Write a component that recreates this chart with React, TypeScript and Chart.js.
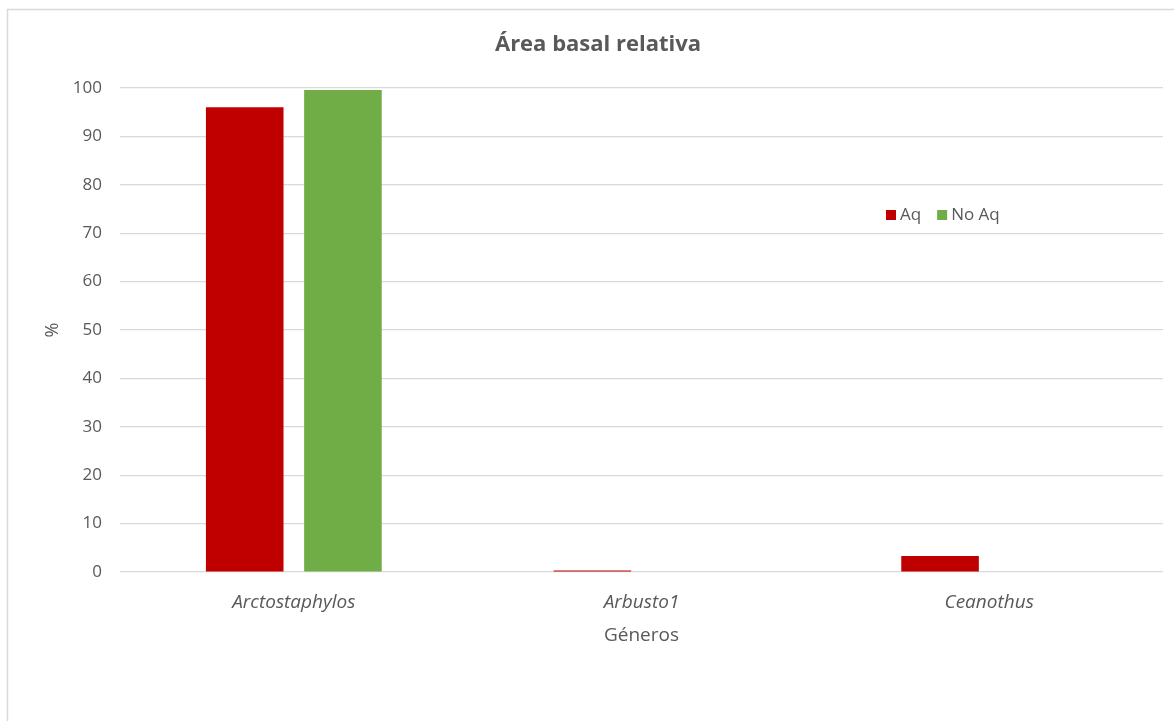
import React, { useEffect, useRef } from "react";
import { Chart, registerables } from "chart.js";

Chart.register(...registerables);

const TITLE = "Área basal relativa";
const CATEGORIES = ["Arctostaphylos", "Arbusto1", "Ceanothus"];
const SERIES_NAMES = ["Aq", "No Aq"];
const AQ_VALUES = [96.0, 0.3, 3.3];
const NO_AQ_VALUES = [99.6, 0, 0];
const SERIES_COLORS = ["#C00000", "#70AD47"];
const Y_MIN = 0;
const Y_MAX = 100;
const Y_STEP = 10;
const X_TITLE = "Géneros";
const Y_TITLE = "%";

const FONT = "'Open Sans', 'Noto Sans', sans-serif";
const TEXT = "#595959";
const GRID = "#d9d9d9";

const framePlugin = {
  id: "frameAndTitle",
  beforeDraw(chart: any) {
    const { ctx, width, height } = chart;
    ctx.save();
    ctx.fillStyle = "#ffffff";
    ctx.fillRect(0, 0, width, height);
    ctx.strokeStyle = GRID;
    ctx.lineWidth = 1.5;
    ctx.beginPath();
    ctx.moveTo(7.5, height);
    ctx.lineTo(7.5, 9.5);
    ctx.lineTo(width, 9.5);
    ctx.stroke();
    ctx.restore();
  },
  afterDraw(chart: any) {
    const { ctx } = chart;
    ctx.save();
    // title
    ctx.fillStyle = TEXT;
    ctx.font = `bold 22px ${FONT}`;
    ctx.textAlign = "center";
    ctx.textBaseline = "middle";
    ctx.fillText(TITLE, 598, 45);
    // legend
    ctx.font = `17px ${FONT}`;
    ctx.textAlign = "left";
    let x = 886;
    const y = 215;
    chart.data.datasets.forEach((ds: any) => {
      ctx.fillStyle = ds.backgroundColor;
      ctx.fillRect(x, y - 5, 10, 10);
      ctx.fillStyle = TEXT;
      ctx.fillText(ds.label, x + 14, y);
      const w = ctx.measureText(ds.label).width;
      x += 14 + w + 16;
    });
    ctx.restore();
  },
};

export default function App() {
  const ref = useRef<HTMLCanvasElement | null>(null);
  useEffect(() => {
    if (!ref.current) return;
    const chart = new Chart(ref.current, {
      type: "bar",
      data: {
        labels: CATEGORIES,
        datasets: [
          {
            label: SERIES_NAMES[0],
            data: AQ_VALUES,
            backgroundColor: SERIES_COLORS[0],
            categoryPercentage: 0.565,
            barPercentage: 0.79,
          },
          {
            label: SERIES_NAMES[1],
            data: NO_AQ_VALUES,
            backgroundColor: SERIES_COLORS[1],
            categoryPercentage: 0.565,
            barPercentage: 0.79,
          },
        ],
      },
      options: {
        responsive: false,
        animation: false,
        layout: { padding: { left: 38, right: 11, top: 88, bottom: 0 } },
        plugins: {
          legend: { display: false },
          title: { display: false },
          tooltip: { enabled: false },
        },
        scales: {
          x: {
            grid: { display: false },
            border: { display: false },
            ticks: {
              color: TEXT,
              padding: 11,
              font: { family: FONT, size: 19, style: "italic" },
            },
            title: {
              display: true,
              text: X_TITLE,
              color: TEXT,
              font: { family: FONT, size: 19 },
              padding: { top: 0, bottom: 74 },
            },
            afterFit: (s: any) => {
              s.height = 149;
            },
          },
          y: {
            min: Y_MIN,
            max: Y_MAX,
            border: { display: false },
            grid: { color: GRID, lineWidth: 1.2, drawTicks: false },
            ticks: {
              stepSize: Y_STEP,
              color: TEXT,
              padding: 18,
              font: { family: FONT, size: 17 },
            },
            title: {
              display: true,
              text: Y_TITLE,
              color: TEXT,
              font: { family: FONT, size: 18 },
              padding: { top: 4, bottom: 0 },
            },
            afterFit: (s: any) => {
              s.width = 82;
            },
          },
        },
      },
      plugins: [framePlugin],
    });
    return () => chart.destroy();
  }, []);
  return (
    <div style={{ position: "fixed", left: 0, top: 0, width: 1174, height: 721, background: "#fff" }}>
      <canvas ref={ref} width={1174} height={721} style={{ display: "block" }} />
    </div>
  );
}
